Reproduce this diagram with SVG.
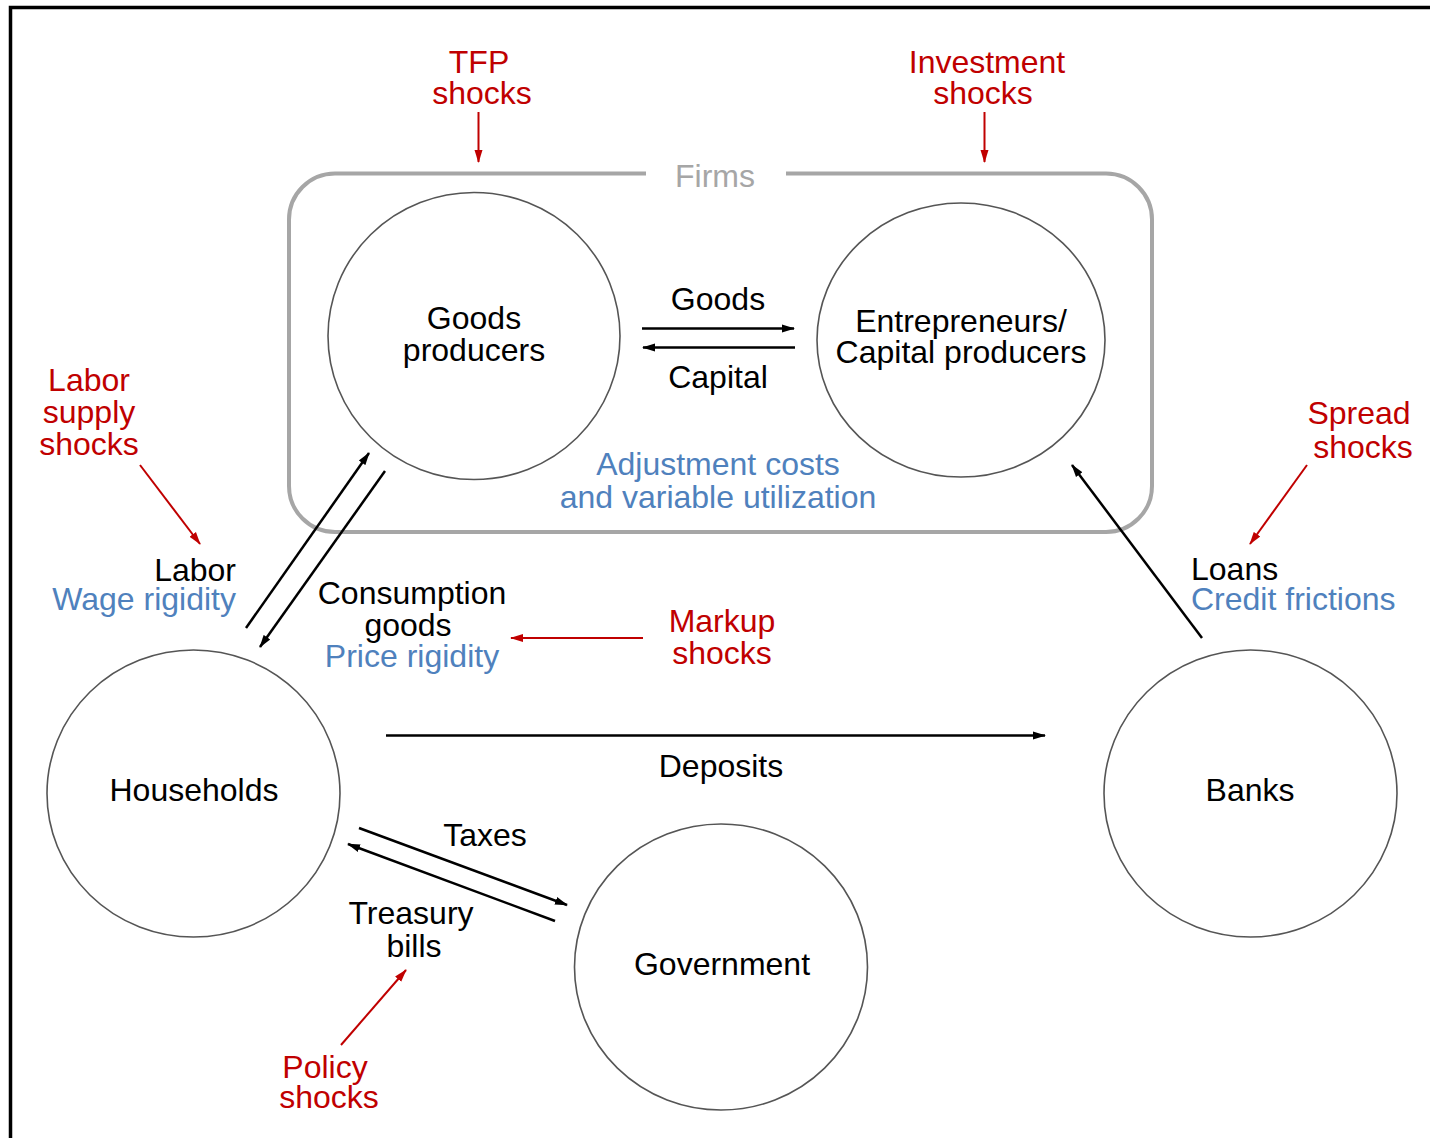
<svg xmlns="http://www.w3.org/2000/svg" width="1430" height="1138" viewBox="0 0 1430 1138">
  <defs>
    <marker id="ah" markerUnits="userSpaceOnUse" markerWidth="14" markerHeight="10" refX="12" refY="5" orient="auto">
      <path d="M0,1 L13,5 L0,9 Z" fill="#000"/>
    </marker>
    <marker id="ahRed" markerUnits="userSpaceOnUse" markerWidth="14" markerHeight="10" refX="12" refY="5" orient="auto">
      <path d="M0,1 L13,5 L0,9 Z" fill="#c00000"/>
    </marker>
  </defs>
  <style>
    text { font-family: "Liberation Sans", Arial, sans-serif; font-size: 32px; text-anchor: middle; }
    .blk { fill: #000; }
    .red { fill: #c00000; }
    .blue { fill: #4f81bd; }
    .gray { fill: #a6a6a6; }
    .node { fill: none; stroke: #555; stroke-width: 1.6; }
    .flow { stroke: #000; stroke-width: 2.5; fill: none; marker-end: url(#ah); }
    .shock { stroke: #c00000; stroke-width: 2; fill: none; marker-end: url(#ahRed); }
  </style>

  <rect width="1430" height="1138" fill="#fff"/>
  <!-- outer frame (top and left edges) -->
  <path d="M10.5,1138 V7.5 H1430" fill="none" stroke="#000" stroke-width="3.5"/>

  <!-- Firms grouping box -->
  <g id="firms">
    <path d="M646,173.5 H335 A46,46 0 0 0 289,219.5 V486 A46,46 0 0 0 335,532 H1106 A46,46 0 0 0 1152,486 V219.5 A46,46 0 0 0 1106,173.5 H786" fill="none" stroke="#a6a6a6" stroke-width="4"/>
    <text class="gray" x="715" y="187">Firms</text>
    <text class="blue" x="718" y="475">Adjustment costs<tspan x="718" dy="33">and variable utilization</tspan></text>
  </g>

  <g id="goods-producers">
    <ellipse class="node" cx="474" cy="336" rx="146" ry="143.5"/>
    <text class="blk" x="474" y="329">Goods<tspan x="474" dy="32">producers</tspan></text>
  </g>

  <g id="entrepreneurs">
    <ellipse class="node" cx="961" cy="340" rx="144" ry="137"/>
    <text class="blk" x="961" y="332">Entrepreneurs/<tspan x="961" dy="31">Capital producers</tspan></text>
  </g>

  <g id="households">
    <ellipse class="node" cx="193.5" cy="793.5" rx="146.5" ry="143.5"/>
    <text class="blk" x="194" y="801">Households</text>
  </g>

  <g id="banks">
    <ellipse class="node" cx="1250.5" cy="793.5" rx="146.5" ry="143.5"/>
    <text class="blk" x="1250" y="801">Banks</text>
  </g>

  <g id="government">
    <ellipse class="node" cx="721" cy="967" rx="146.5" ry="143"/>
    <text class="blk" x="722" y="975">Government</text>
  </g>

  <!-- flows between sectors -->
  <g id="connectors">
    <line class="flow" x1="642" y1="328.5" x2="794" y2="328.5"/>
    <line class="flow" x1="795" y1="347.5" x2="643" y2="347.5"/>
    <line class="flow" x1="246" y1="628" x2="369" y2="453"/>
    <line class="flow" x1="385" y1="471" x2="260" y2="647"/>
    <line class="flow" x1="386" y1="735.5" x2="1045" y2="735.5"/>
    <line class="flow" x1="359" y1="828" x2="567" y2="905"/>
    <line class="flow" x1="555" y1="921" x2="348" y2="844"/>
    <line class="flow" x1="1202" y1="638" x2="1072" y2="465"/>

    <!-- exogenous shocks -->
    <line class="shock" x1="478.5" y1="112" x2="478.5" y2="162"/>
    <line class="shock" x1="984.5" y1="112" x2="984.5" y2="162"/>
    <line class="shock" x1="140" y1="465" x2="200" y2="544"/>
    <line class="shock" x1="1307" y1="465" x2="1250" y2="544"/>
    <line class="shock" x1="643" y1="638" x2="511" y2="638"/>
    <line class="shock" x1="341" y1="1045" x2="406" y2="970"/>
  </g>

  <!-- flow labels -->
  <g id="labels">
    <text class="blk" x="718" y="310">Goods</text>
    <text class="blk" x="718" y="388">Capital</text>
    <text class="blk" x="236" y="581" style="text-anchor:end">Labor<tspan class="blue" x="236" dy="29">Wage rigidity</tspan></text>
    <text class="blk" x="412" y="604">Consumption<tspan x="408" dy="32">goods</tspan><tspan class="blue" x="412" dy="31">Price rigidity</tspan></text>
    <text class="blk" x="721" y="777">Deposits</text>
    <text class="blk" x="485" y="846">Taxes</text>
    <text class="blk" x="411" y="924">Treasury<tspan x="414" dy="33">bills</tspan></text>
    <text class="blk" x="1191" y="580" style="text-anchor:start">Loans<tspan class="blue" x="1191" dy="30">Credit frictions</tspan></text>
  </g>

  <!-- shock labels -->
  <g id="shock-labels">
    <text class="red" x="479" y="73">TFP<tspan x="482" dy="31">shocks</tspan></text>
    <text class="red" x="987" y="73">Investment<tspan x="983" dy="31">shocks</tspan></text>
    <text class="red" x="89" y="391">Labor<tspan x="89" dy="32">supply</tspan><tspan x="89" dy="32">shocks</tspan></text>
    <text class="red" x="1359" y="424">Spread<tspan x="1363" dy="34">shocks</tspan></text>
    <text class="red" x="722" y="632">Markup<tspan x="722" dy="32">shocks</tspan></text>
    <text class="red" x="325" y="1078">Policy<tspan x="329" dy="30">shocks</tspan></text>
  </g>
</svg>
